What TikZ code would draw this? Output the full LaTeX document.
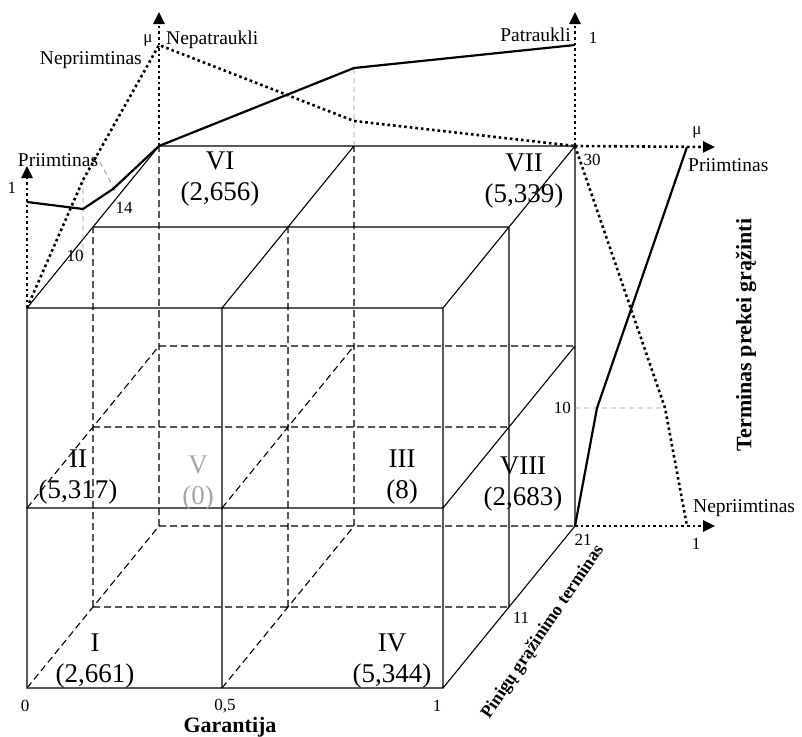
\documentclass[tikz,border=0pt]{standalone}
\usepackage{fontspec}
\setmainfont{Liberation Serif}
\usetikzlibrary{arrows.meta}

\begin{document}
\begin{tikzpicture}[x=1pt, y=-1pt,
    edge/.style   = {line width=1.1pt},
    hidden/.style = {line width=1.1pt, dash pattern=on 7pt off 4pt},
    guide/.style  = {gray!80, line width=0.9pt, dash pattern=on 5pt off 4pt},
    good/.style   = {line width=2.2pt, line join=round},
    bad/.style    = {line width=2.6pt, dash pattern=on 2.6pt off 3pt},
    axis/.style   = {bad, -{Triangle[length=12pt,width=11pt]}},
    region/.style = {align=center, font=\fontsize{27}{31}\selectfont, inner sep=0pt},
    tick/.style   = {font=\fontsize{17}{19}\selectfont, inner sep=1pt},
    term/.style   = {font=\fontsize{19.5}{21}\selectfont, inner sep=1pt},
    title/.style  = {font=\bfseries\fontsize{22}{24}\selectfont, inner sep=1pt}]

  \useasboundingbox (0,0) rectangle (802,736);

  % corners c<garantija><height><depth>
  \foreach \i/\x in {0/27,1/222,2/443}
    \foreach \j/\y in {0/688,1/508,2/308}
      \foreach \k in {0,1,2}
        \coordinate (c\i\j\k) at (\x+66*\k,\y-81*\k);

  % hidden edges
  \draw[hidden] (c002) -- (c022) (c102) -- (c122) (c002) -- (c202) (c012) -- (c212)
    (c001) -- (c021) (c101) -- (c121) (c001) -- (c201) (c011) -- (c211)
    (c000) -- (c002) (c010) -- (c012) (c100) -- (c102) (c110) -- (c112);

  % visible edges
  \draw[edge] (c000) rectangle (c220) (c100) -- (c120) (c010) -- (c210)
    (c020) -- (c022) -- (c222) -- (c220) (c120) -- (c122) (c021) -- (c221)
    (c200) -- (c202) -- (c222) (c210) -- (c212) (c201) -- (c221);

  % knots of the membership functions
  \coordinate (pA) at (27,202);
  \coordinate (pB) at (83,209);
  \coordinate (pC) at (113,189);
  \coordinate (nB) at (83,180);
  \coordinate (nT) at (159,45);
  \coordinate (tP) at (354,68);
  \coordinate (tN) at (354,121);
  \coordinate (tPe) at (575,45);
  \coordinate (rP) at (597,408);
  \coordinate (rPe) at (687,147);
  \coordinate (rN) at (665,408);
  \coordinate (rNe) at (687,526);
  \coordinate (r10) at (575,408);
  \coordinate (g10) at (83,262);
  \coordinate (g14a) at (100,162);
  \coordinate (g14b) at (116,192);
  \coordinate (aL) at (27,166);
  \coordinate (aT) at (159,12);
  \coordinate (aR) at (575,12);
  \coordinate (aRt) at (715,147);
  \coordinate (aRb) at (715,526);

  \draw[guide] (nB) -- (g10) (g14a) -- (g14b) (c122) -- (tP) (r10) -- (rN);

  \draw[axis] (c020) -- (aL);
  \draw[axis] (c022) -- (aT);
  \draw[axis] (c222) -- (aR);
  \draw[axis] (c222) -- (aRt);
  \draw[axis] (c202) -- (aRb);

  \draw[good] (pA) -- (pB) -- (pC) -- (c022) -- (tP) -- (tPe);
  \draw[bad] (c020) -- (nB) -- (nT) -- (tN) -- (c222);
  \draw[good] (c202) -- (rP) -- (rPe);
  \draw[bad] (c222) -- (rN) -- (rNe);

  % term names and scale marks
  \node[tick] (one1) at (12,188) {1};
  \node[term] (pri1) at (58,160) {Priimtinas};
  \node[term, anchor=east] (nep1) at (143,60) {Nepriimtinas};
  \node[tick] (mu1) at (148,40) {μ};
  \node[term, anchor=west] (nepat) at (165,40) {Nepatraukli};
  \node[term, anchor=east] (pat) at (572,35) {Patraukli};
  \node[tick] (one2) at (593,38) {1};
  \node[tick] (v14) at (124,208) {14};
  \node[tick] (v10) at (75,256) {10};
  \node[tick] (v30) at (592,160) {30};
  \node[tick, anchor=east] (v10r) at (572,408) {10};
  \node[tick] (v21) at (583,540) {21};
  \node[tick] (v11) at (521,618) {11};
  \node[tick] (mu2) at (697,132) {μ};
  \node[term, anchor=west] (pri2) at (687,165) {Priimtinas};
  \node[term, anchor=west] (nep2) at (692,508) {Nepriimtinas};
  \node[tick] (one3) at (696,544) {1};
  \node[tick] (g0) at (25,706) {0};
  \node[tick] (g05) at (225,706) {0,5};
  \node[tick] (g1) at (437,706) {1};

  % axis titles
  \node[title] (gar) at (230,727) {Garantija};
  \node[title, rotate=56, font=\bfseries\fontsize{18}{20}\selectfont] (pin) at (543,632) {Pinigų grąžinimo terminas};
  \node[title, rotate=90] (ter) at (746,335) {Terminas prekei grąžinti};

  % cells
  \node[region] (r1) at (95,661) {I\\(2,661)};
  \node[region] (r2) at (78,477) {II\\(5,317)};
  \node[region, gray!70] (r5) at (198,483) {V\\(0)};
  \node[region] (r3) at (402,477) {III\\(8)};
  \node[region] (r4) at (392,661) {IV\\(5,344)};
  \node[region] (r8) at (523,484) {VIII\\(2,683)};
  \node[region] (r6) at (220,179) {VI\\(2,656)};
  \node[region] (r7) at (524,181) {VII\\(5,339)};
\end{tikzpicture}
\end{document}
